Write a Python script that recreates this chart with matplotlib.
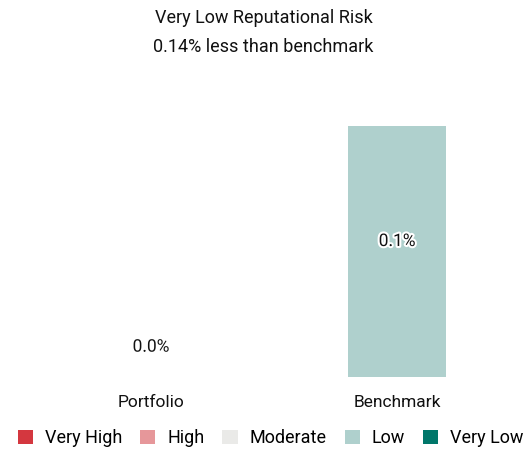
import matplotlib.pyplot as plt
import matplotlib.patheffects as pe
from matplotlib.patches import Patch

plt.rcParams['font.family'] = ['Roboto', 'DejaVu Sans']

# data
categories = ['Portfolio', 'Benchmark']
values = [0.0, 0.14]
bar_colors = ['#afd0cd', '#afd0cd']
title_lines = ['Very Low Reputational Risk', '0.14% less than benchmark']
legend_labels = ['Very High', 'High', 'Moderate', 'Low', 'Very Low']
legend_colors = ['#d4373f', '#e6979a', '#eaeae8', '#afd0cd', '#00776a']

fig = plt.figure(figsize=(5.27, 4.5), dpi=100)
ax = fig.add_axes([0.053, 0.162, 0.934, 0.558])

x = range(len(categories))
ax.bar(x, values, width=0.4, color=bar_colors)

for xi, v in zip(x, values):
    ly = max(v / 2 + 0.0056, 0.0167)
    ax.text(xi, ly, f'{v:.1f}%', ha='center', va='center', fontsize=12.5,
            color='#111111',
            path_effects=[pe.withStroke(linewidth=3, foreground='white')])

ax.set_xlim(-0.5, 1.5)
ax.set_ylim(0, 0.14)
ax.set_xticks(list(x))
ax.set_xticklabels(categories, fontsize=12.5, color='#111111')
ax.tick_params(axis='x', length=0, pad=13)
ax.set_yticks([])
for s in ax.spines.values():
    s.set_visible(False)

fig.text(0.5, 1 - 18 / 450, title_lines[0], ha='center', va='center',
         fontsize=13, color='#111111')
fig.text(0.5, 1 - 47 / 450, title_lines[1], ha='center', va='center',
         fontsize=13, color='#111111')

handles = [Patch(facecolor=c, edgecolor='none') for c in legend_colors]
fig.legend(handles, legend_labels, loc='center',
           bbox_to_anchor=(270.5 / 527, 1 - 438 / 450),
           ncol=5, frameon=False, fontsize=13, handlelength=0.85, handleheight=0.85,
           handletextpad=0.65, columnspacing=1.0, borderaxespad=0, borderpad=0)

fig.savefig('out.png', dpi=100)
